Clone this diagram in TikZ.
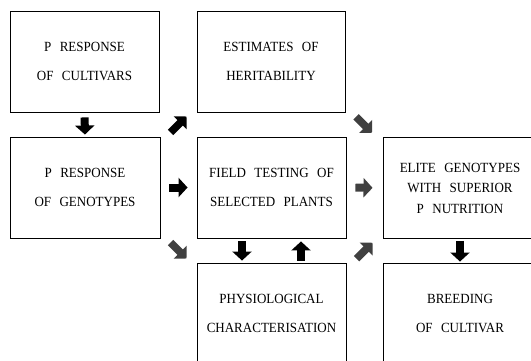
\documentclass[tikz,border=0pt]{standalone}
\usepackage{fontspec}
\setmainfont{Liberation Serif}
\newfontfamily\bxff{Liberation Serif}[FakeStretch=0.93]
\usetikzlibrary{arrows.meta,calc}
\newcommand\bxfont{\bxff\fontsize{14}{29}\selectfont\setlength{\spaceskip}{0.6em}}
\newcommand\bxfontc{\bxff\fontsize{14}{20.5}\selectfont\setlength{\spaceskip}{0.6em}}
\begin{document}
\begin{tikzpicture}[x=1pt,y=-1pt,
  box/.style={draw, line width=0.9pt, minimum height=101pt, inner sep=0pt, align=center,
    font=\bxfont},
  fat/.style={line width=8pt, -{Triangle[width=19pt,length=9pt]}},
  fatd/.style={line width=7.5pt, -{Triangle[width=18pt,length=9pt]}},
  solid black/.style={draw=black},
  speck/.style={draw=black!75}
]
\useasboundingbox (0,0) rectangle (531,361);
\clip (0,0) rectangle (531,361);

\node[box, minimum width=149pt] (cult) at (84.5,61.5) {P RESPONSE\\OF CULTIVARS};
\node[box, minimum width=148pt] (herit) at (271,61.5) {ESTIMATES OF\\HERITABILITY};
\node[box, minimum width=150pt] (geno) at (85,187.5) {P RESPONSE\\OF GENOTYPES};
\node[box, minimum width=149pt] (field) at (271.5,187.5) {FIELD TESTING OF\\SELECTED PLANTS};
\node[box, minimum width=154pt, font=\bxfontc] (elite) at (460,188) {ELITE GENOTYPES\\WITH SUPERIOR\\P NUTRITION};
\node[box, minimum width=149pt] (phys) at (271.5,313.5) {PHYSIOLOGICAL\\CHARACTERISATION};
\node[box, minimum width=154pt] (breed) at (460,313.5) {BREEDING\\OF CULTIVAR};

% midpoints for diagonal arrows
\coordinate (m1) at ($(geno.north east)!0.5!(herit.south west)$);
\coordinate (m2) at ($(geno.south east)!0.5!(phys.north west)$);
\coordinate (m3) at ($(herit.south east)!0.5!(elite.north west)$);
\coordinate (m4) at ($(phys.north east)!0.5!(elite.south west)$);

% straight arrows
\draw[fat, solid black, shorten <=5pt, shorten >=2pt] (cult.south) -- (geno.north);
\draw[fat, solid black, shorten <=9pt, shorten >=9pt] (geno.east) -- (field.west);
\draw[fat, solid black, shorten <=3pt, shorten >=2pt] ([xshift=-29.5pt]field.south) -- ([xshift=-29.5pt]phys.north);
\draw[fat, solid black, shorten <=2pt, shorten >=3pt] ([xshift=29.5pt]phys.north) -- ([xshift=29.5pt]field.south);
\draw[fat, speck, shorten <=9pt, shorten >=10pt] (field.east) -- (elite.west);
\draw[fat, solid black, shorten <=2pt, shorten >=1pt] (elite.south) -- (breed.north);

% diagonal arrows
\draw[fatd, solid black] ($(m1)+(-8,8)$) -- ($(m1)+(8,-8)$);
\draw[fatd, speck] ($(m2)+(-8,-8)$) -- ($(m2)+(8,8)$);
\draw[fatd, speck] ($(m3)+(-8,-8)$) -- ($(m3)+(8,8)$);
\draw[fatd, speck] ($(m4)+(-8,8)$) -- ($(m4)+(8,-8)$);
\end{tikzpicture}
\end{document}
